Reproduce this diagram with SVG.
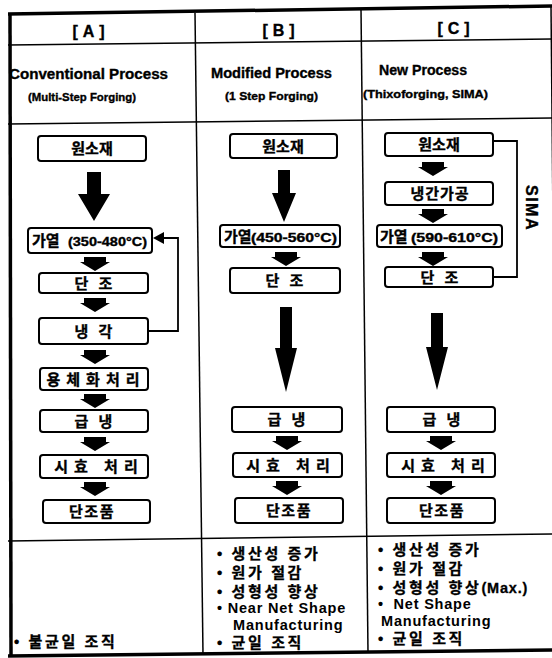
<svg xmlns="http://www.w3.org/2000/svg" width="552" height="658" viewBox="0 0 552 658">
  <defs>
    <style>
      .bg { fill: #ffffff; }
      .grid { stroke: #000; fill: none; stroke-width: 1.5; }
      .frame { stroke: #000; fill: none; stroke-width: 3.5; }
      .box { fill: #ffffff; stroke: #000; stroke-width: 2; }
      .kr { font-family: "Liberation Sans", "Noto Sans CJK KR", sans-serif; font-weight: 700; font-size: 15px; fill: #000; stroke: #000; stroke-width: 0.35px; }
      .en { font-family: "Liberation Sans", Arial, sans-serif; font-weight: 700; fill: #000; stroke: #000; stroke-width: 0.35px; }
      .li { font-family: "Liberation Sans", "Noto Sans CJK KR", sans-serif; font-weight: 700; font-size: 15px; fill: #000; stroke: #000; stroke-width: 0.3px; letter-spacing: 2.6px; }
      .eng { font-family: "Liberation Sans", Arial, sans-serif; font-weight: 700; font-size: 14.5px; fill: #000; letter-spacing: 0.8px; }
      .arrow { fill: #000; }
      .wire { stroke: #000; fill: none; stroke-width: 1.8; }
    </style>
    <!-- short block arrow between consecutive steps -->
    <path id="step" d="M-11,0 H11 V5 H15 L0,14 L-15,5 H-11 Z"/>
  </defs>

  <rect class="bg" x="0" y="0" width="552" height="658"/>

  <!-- table frame and rulings -->
  <g id="table">
    <line class="frame" x1="8" y1="14" x2="552" y2="6"/>
    <line class="frame" x1="10" y1="13" x2="11" y2="657"/>
    <line class="frame" x1="8" y1="656" x2="552" y2="650" stroke-width="3"/>
    <line class="grid" x1="551" y1="6" x2="557" y2="650" stroke-width="2"/>
    <line class="grid" x1="195" y1="13" x2="203" y2="655"/>
    <line class="grid" x1="361" y1="9" x2="368" y2="652"/>
    <line class="grid" x1="8" y1="45" x2="552" y2="39"/>
    <line class="grid" x1="8" y1="124" x2="552" y2="118"/>
    <line class="grid" x1="8" y1="541" x2="552" y2="534"/>
  </g>

  <!-- column headings -->
  <g id="headings">
    <text class="en" x="91" y="37" font-size="16" letter-spacing="5" text-anchor="middle">[A]</text>
    <text class="en" x="281" y="36" font-size="16" letter-spacing="5" text-anchor="middle">[B]</text>
    <text class="en" x="456" y="34" font-size="16" letter-spacing="5" text-anchor="middle">[C]</text>

    <text class="en" x="9" y="79" font-size="14" textLength="159" lengthAdjust="spacingAndGlyphs">Conventional Process</text>
    <text class="en" x="28" y="101" font-size="11" textLength="108" lengthAdjust="spacingAndGlyphs">(Multi-Step Forging)</text>

    <text class="en" x="211" y="78" font-size="14" textLength="121" lengthAdjust="spacingAndGlyphs">Modified Process</text>
    <text class="en" x="225" y="100" font-size="11" textLength="93" lengthAdjust="spacingAndGlyphs">(1 Step Forging)</text>

    <text class="en" x="379" y="75" font-size="14" textLength="88" lengthAdjust="spacingAndGlyphs">New Process</text>
    <text class="en" x="363" y="98" font-size="11" textLength="125" lengthAdjust="spacingAndGlyphs">(Thixoforging, SIMA)</text>
  </g>

  <!-- connectors -->
  <g id="connectors">
    <!-- long arrows -->
    <polygon class="arrow" points="87,172 101,172 101,194 110,194 94,221 78,194 87,194"/>
    <polygon class="arrow" points="278,170 290,170 290,193 296,193 284,222 272,193 278,193"/>
    <polygon class="arrow" points="280,307 292,307 292,348 297,348 286,392 275,348 280,348"/>
    <polygon class="arrow" points="431,313 443,313 443,347 448,347 437,390 426,347 431,347"/>

    <!-- step arrows, column A -->
    <use href="#step" class="arrow" x="95" y="257"/>
    <use href="#step" class="arrow" x="95" y="298"/>
    <use href="#step" class="arrow" x="95" y="350"/>
    <use href="#step" class="arrow" x="95" y="394"/>
    <use href="#step" class="arrow" x="95" y="437"/>
    <use href="#step" class="arrow" x="95" y="482"/>

    <!-- step arrows, column B -->
    <use href="#step" class="arrow" x="286" y="252"/>
    <use href="#step" class="arrow" x="287" y="436"/>
    <use href="#step" class="arrow" x="287" y="481"/>

    <!-- step arrows, column C -->
    <use href="#step" class="arrow" x="433" y="162"/>
    <use href="#step" class="arrow" x="433" y="209"/>
    <use href="#step" class="arrow" x="433" y="252"/>
    <use href="#step" class="arrow" x="441" y="436"/>
    <use href="#step" class="arrow" x="441" y="481"/>

    <!-- reheating loop from cooling back to heating -->
    <polyline class="wire" points="148,331 178,331 178,238 162,238"/>
    <polygon class="arrow" points="153,238 164,232 164,244"/>

    <!-- SIMA bracket -->
    <polyline class="wire" stroke-width="1.3" points="493,141 517,141 517,277 493,277"/>
    <text class="en" font-size="16" letter-spacing="1.5" text-anchor="middle" transform="translate(526,208) rotate(90)">SIMA</text>
  </g>

  <!-- column A nodes -->
  <g id="a-raw"><rect class="box" x="38" y="136" width="108" height="25" rx="3"/><text class="kr" x="92" y="154" text-anchor="middle">원소재</text></g>
  <g id="a-heat"><rect class="box" x="28" y="228" width="124" height="25" rx="3"/><text class="kr" x="32" y="246">가열</text><text class="en" x="68" y="246" font-size="12" textLength="79" lengthAdjust="spacingAndGlyphs">(350-480°C)</text></g>
  <g id="a-forge"><rect class="box" x="39" y="273" width="109" height="20" rx="3"/><text class="kr" x="95" y="289" letter-spacing="3" text-anchor="middle">단 조</text></g>
  <g id="a-cool"><rect class="box" x="39" y="318" width="109" height="26" rx="3"/><text class="kr" x="95" y="337" letter-spacing="3" text-anchor="middle">냉 각</text></g>
  <g id="a-solution"><rect class="box" x="40" y="368" width="108" height="22" rx="3"/><text class="kr" x="96" y="385" letter-spacing="6" text-anchor="middle">용체화처리</text></g>
  <g id="a-quench"><rect class="box" x="40" y="410" width="108" height="22" rx="3"/><text class="kr" x="95" y="427" letter-spacing="3" text-anchor="middle">급 냉</text></g>
  <g id="a-aging"><rect class="box" x="40" y="455" width="108" height="23" rx="3"/><text class="kr" x="99" y="472" letter-spacing="6" text-anchor="middle">시효 처리</text></g>
  <g id="a-product"><rect class="box" x="43" y="500" width="107" height="23" rx="3"/><text class="kr" x="92" y="517" letter-spacing="1.5" text-anchor="middle">단조품</text></g>

  <!-- column B nodes -->
  <g id="b-raw"><rect class="box" x="230" y="134" width="107" height="24" rx="3"/><text class="kr" x="283" y="152" text-anchor="middle">원소재</text></g>
  <g id="b-heat"><rect class="box" x="220" y="225" width="120" height="22" rx="3"/><text class="kr" x="224" y="242" font-size="13">가열</text><text class="en" x="251" y="242" font-size="12" textLength="86" lengthAdjust="spacingAndGlyphs">(450-560°C)</text></g>
  <g id="b-forge"><rect class="box" x="230" y="268" width="110" height="25" rx="3"/><text class="kr" x="286" y="286" letter-spacing="3" text-anchor="middle">단 조</text></g>
  <g id="b-quench"><rect class="box" x="232" y="407" width="110" height="25" rx="3"/><text class="kr" x="288" y="425" letter-spacing="3" text-anchor="middle">급 냉</text></g>
  <g id="b-aging"><rect class="box" x="233" y="453" width="109" height="24" rx="3"/><text class="kr" x="291" y="471" letter-spacing="6" text-anchor="middle">시효 처리</text></g>
  <g id="b-product"><rect class="box" x="235" y="498" width="108" height="25" rx="3"/><text class="kr" x="289" y="516" letter-spacing="1.5" text-anchor="middle">단조품</text></g>

  <!-- column C nodes -->
  <g id="c-raw"><rect class="box" x="385" y="133" width="108" height="23" rx="3"/><text class="kr" x="439" y="150" text-anchor="middle">원소재</text></g>
  <g id="c-coldwork"><rect class="box" x="385" y="182" width="108" height="23" rx="3"/><text class="kr" x="440" y="199" letter-spacing="1" text-anchor="middle">냉간가공</text></g>
  <g id="c-heat"><rect class="box" x="377" y="225" width="125" height="22" rx="3"/><text class="kr" x="380" y="242" font-size="14">가열</text><text class="en" x="411" y="242" font-size="12" textLength="87" lengthAdjust="spacingAndGlyphs">(590-610°C)</text></g>
  <g id="c-forge"><rect class="box" x="385" y="267" width="108" height="20" rx="3"/><text class="kr" x="441" y="283" letter-spacing="3" text-anchor="middle">단 조</text></g>
  <g id="c-quench"><rect class="box" x="387" y="407" width="108" height="25" rx="3"/><text class="kr" x="443" y="425" letter-spacing="3" text-anchor="middle">급 냉</text></g>
  <g id="c-aging"><rect class="box" x="387" y="453" width="108" height="24" rx="3"/><text class="kr" x="446" y="471" letter-spacing="6" text-anchor="middle">시효 처리</text></g>
  <g id="c-product"><rect class="box" x="387" y="498" width="108" height="25" rx="3"/><text class="kr" x="442" y="516" letter-spacing="1.5" text-anchor="middle">단조품</text></g>

  <!-- characteristics row -->
  <g id="notes-a">
    <text class="li" x="14" y="647">• 불균일 조직</text>
  </g>
  <g id="notes-b">
    <text class="li" x="217" y="559">• 생산성 증가</text>
    <text class="li" x="217" y="578">• 원가 절감</text>
    <text class="li" x="217" y="597">• 성형성 향상</text>
    <text class="eng" x="217" y="613">• Near Net Shape<tspan x="233" y="630">Manufacturing</tspan></text>
    <text class="li" x="217" y="648">• 균일 조직</text>
  </g>
  <g id="notes-c">
    <text class="li" x="378" y="555">• 생산성 증가</text>
    <text class="li" x="378" y="574">• 원가 절감</text>
    <text class="li" x="378" y="593">• 성형성 향상<tspan class="eng" letter-spacing="0.4">(Max.)</tspan></text>
    <text class="eng" x="378" y="609" xml:space="preserve">•  Net Shape<tspan x="381" y="626">Manufacturing</tspan></text>
    <text class="li" x="378" y="644">• 균일 조직</text>
  </g>
</svg>
